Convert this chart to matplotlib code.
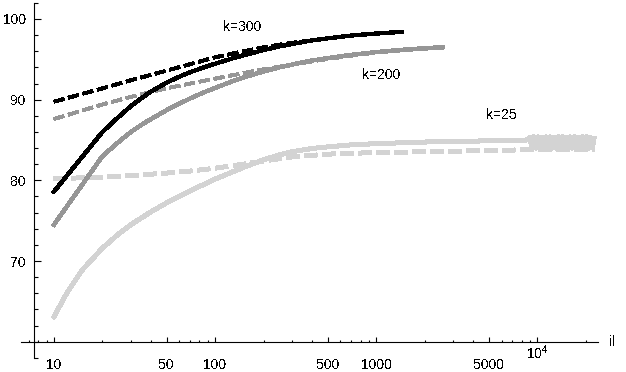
import matplotlib
matplotlib.use("Agg")
import matplotlib.pyplot as plt
from matplotlib.ticker import FixedLocator, FixedFormatter, NullFormatter

plt.rcParams['font.family'] = ['Liberation Sans', 'DejaVu Sans']
plt.rcParams['font.size'] = 10
plt.rcParams['mathtext.fontset'] = 'custom'
plt.rcParams['mathtext.rm'] = 'Liberation Sans'
plt.rcParams['lines.antialiased'] = False
plt.rcParams['text.antialiased'] = False

# k=300
i_300 = [10, 20, 25, 30, 35, 40, 50, 60, 70, 85, 100, 125, 150, 200, 250, 300, 400, 500,
         700, 1000, 1440]
acc_300 = [78.6, 86.0, 87.8, 89.2, 90.2, 91.0, 92.1, 92.85, 93.4, 94.0, 94.45, 95.05, 95.5,
           96.15, 96.6, 96.9, 97.35, 97.6, 97.95, 98.2, 98.4]
i_300d = [10, 20, 30, 50, 70, 100, 150, 200, 300, 500, 700, 1000, 1400]
acc_300d = [89.75, 91.4, 92.4, 93.6, 94.4, 95.25, 96.0, 96.5, 97.05, 97.6, 97.95, 98.2, 98.4]

# k=200
i_200 = [10, 20, 25, 30, 35, 40, 50, 60, 70, 85, 100, 125, 150, 200, 250, 300, 400, 500,
         700, 1000, 1400, 1900, 2600]
acc_200 = [74.5, 83.0, 84.7, 86.0, 86.9, 87.6, 88.7, 89.5, 90.15, 90.9, 91.45, 92.2, 92.75,
           93.5, 94.0, 94.35, 94.85, 95.15, 95.55, 95.9, 96.15, 96.35, 96.5]
i_200d = [10, 20, 30, 50, 70, 100, 150, 200, 300, 500, 700, 1000, 1400, 1900, 2600]
acc_200d = [87.6, 89.4, 90.35, 91.4, 92.0, 92.6, 93.3, 93.75, 94.35, 95.05, 95.45, 95.85,
            96.1, 96.3, 96.45]

# k=25 (noisy tail at large il)
i_25 = [10, 12, 15, 20, 25, 30, 40, 50, 70, 100, 125, 150, 200, 250, 300, 400, 500, 700,
        1000, 2000, 5000, 8500,
        9000, 9250, 9500, 9800, 10100, 10400, 10700, 11000, 11300, 11600, 12000, 12300,
        12700, 13100, 13500, 13900, 14300, 14700, 15100, 15600, 16000, 16500, 17000,
        17500, 18000, 18500, 19000, 19600, 20200, 20800, 21400, 22000, 22500]
acc_25 = [63.1, 66.0, 68.9, 71.6, 73.3, 74.5, 76.1, 77.2, 78.7, 80.15, 80.95, 81.6, 82.55,
          83.15, 83.55, 83.95, 84.15, 84.4, 84.55, 84.75, 84.9, 85.0,
          85.3, 84.1, 85.4, 84.0, 85.4, 84.1, 85.3, 84.0, 85.4, 84.1, 85.4, 84.0,
          85.3, 84.0, 85.4, 84.1, 85.4, 84.0, 85.3, 84.1, 85.4, 84.0, 85.4,
          84.1, 85.3, 84.0, 85.4, 84.1, 85.4, 84.0, 85.3, 84.1, 85.2]
i_25d = [10, 20, 30, 50, 70, 100, 150, 200, 300, 500, 1000, 2000, 5000, 9000, 14000, 22500]
acc_25d = [80.2, 80.4, 80.6, 80.9, 81.15, 81.5, 82.0, 82.4, 82.9, 83.25, 83.45, 83.55,
           83.7, 83.8, 83.85, 83.8]

xmajor = [10, 50, 100, 500, 1000, 5000, 10000]
xmajor_labels = ['10', '50', '100', '500', '1000', '5000', '']
xminor = [7, 8, 9, 20, 30, 40, 60, 70, 80, 90, 200, 300, 400, 600, 700, 800, 900,
          2000, 3000, 4000, 6000, 7000, 8000, 9000, 20000]
ymajor = [70, 80, 90, 100]
yminor = [58, 60, 62, 64, 66, 68, 72, 74, 76, 78, 82, 84, 86, 88, 92, 94, 96, 98, 102]

fig = plt.figure(figsize=(6.26, 3.72), dpi=100)
W, H = 626, 372
ax = fig.add_axes([20.7 / W, 14 / H, 577 / W, 355.3 / H])
ax.set_xscale('log')
ax.set_xlim(6.22, 23700)
ax.set_ylim(57.98, 102.02)

dark, mid, light = '#000000', '#969696', '#d3d3d3'
ax.plot(i_25, acc_25, color=light, lw=2.9)
ax.plot(i_25d, acc_25d, color=light, lw=2.9, dashes=(3, 1.25), dash_capstyle='butt')
ax.plot(i_200, acc_200, color=mid, lw=2.5)
ax.plot(i_200d, acc_200d, color=mid, lw=2.4, dashes=(3.3, 1.4), dash_capstyle='butt')
ax.plot(i_300, acc_300, color=dark, lw=2.4)
ax.plot(i_300d, acc_300d, color=dark, lw=2.4, dashes=(3.3, 1.4), dash_capstyle='butt')

ax.text(146.6, 99.0, 'k=300', ha='center', va='center')
ax.text(1077, 93.06, 'k=200', ha='center', va='center')
ax.text(5960, 88.04, 'k=25', ha='center', va='center')

for s in ['top', 'right']:
    ax.spines[s].set_visible(False)
ax.spines['left'].set_position(('data', 7.47))
ax.spines['bottom'].set_position(('data', 60))
for s in ['left', 'bottom']:
    ax.spines[s].set_linewidth(0.8)

ax.xaxis.set_major_locator(FixedLocator(xmajor))
ax.xaxis.set_major_formatter(FixedFormatter(xmajor_labels))
ax.xaxis.set_minor_locator(FixedLocator(xminor))
ax.xaxis.set_minor_formatter(NullFormatter())
ax.yaxis.set_major_locator(FixedLocator(ymajor))
ax.yaxis.set_minor_locator(FixedLocator(yminor))
ax.yaxis.set_minor_formatter(NullFormatter())

ax.tick_params(axis='x', which='major', direction='in', length=3.6, width=0.8, pad=12)
ax.tick_params(axis='x', which='minor', direction='in', length=1.8, width=0.8)
ax.tick_params(axis='y', which='major', direction='in', length=5, width=0.8, pad=5.5)
ax.tick_params(axis='y', which='minor', direction='in', length=3.2, width=0.8)

ax.annotate(r'$\mathregular{10^4}$', xy=(10000, 60), xycoords='data',
            xytext=(0, -1.0), textcoords='offset points', ha='center', va='top')
ax.annotate('il', xy=(1, 60), xycoords=('axes fraction', 'data'),
            xytext=(8, 0), textcoords='offset points', ha='left', va='center')

fig.savefig('out.png', dpi=100)
